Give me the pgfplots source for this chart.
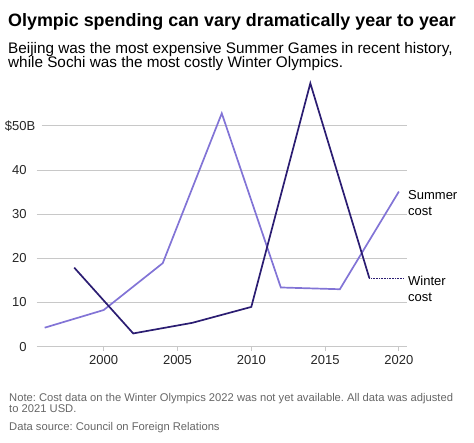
\documentclass[border=0pt]{standalone}
\usepackage{pgfplots}
\pgfplotsset{compat=1.18}
\usepackage{fontspec}
\setmainfont{Liberation Sans}
\definecolor{summer}{HTML}{8274D6}
\definecolor{winter}{HTML}{2B1D72}
\definecolor{gridc}{HTML}{C8C8C8}
\definecolor{notec}{HTML}{666666}
\frenchspacing
\begin{document}
\begin{tikzpicture}[x=1pt,y=1pt]
\path[use as bounding box] (0,0) rectangle (474,442);
\node[anchor=base west,inner sep=0pt,font=\bfseries\fontsize{17.9}{20}\selectfont] at (8,415) {Olympic spending can vary dramatically year to year};
\node[anchor=base west,inner sep=0pt,font=\fontsize{15.3}{14}\selectfont,align=left] at (8,388) {Beijing was the most expensive Summer Games in recent history,};
\node[anchor=base west,inner sep=0pt,font=\fontsize{15.3}{14}\selectfont,align=left] at (8,374) {while Sochi was the most costly Winter Olympics.};
\begin{axis}[
  at={(36.7pt,95.3pt)}, anchor=south west,
  scale only axis, width=370.6pt, height=265.2pt,
  xmin=1995.46, xmax=2020.57, ymin=0, ymax=60,
  clip=false,
  axis x line*=bottom, axis y line*=left,
  x axis line style={gridc,line width=0.8pt,-},
  y axis line style={draw=none},
  xtick={2000,2005,2010,2015,2020},
  xticklabels={2000,2005,2010,2015,2020},
  xtick style={gridc,line width=0.8pt},
  tick align=outside, major tick length=4pt,
  ytick={0,10,20,30,40,50},
  yticklabels={0,10,20,30,40,{\$50\rlap{B}}},
  ytick style={draw=none},
  xticklabel style={font=\fontsize{13}{13}\selectfont,text=black!85,yshift=-1pt},
  yticklabel style={font=\fontsize{13}{13}\selectfont,text=black!85,anchor=east,xshift=-2.5pt},
  /pgf/number format/assume math mode=true,
]
\pgfplotsinvokeforeach{10,20,30,40}{\draw[gridc,line width=0.8pt] (axis cs:1995.46,#1) -- (axis cs:2020.57,#1);}
\draw[gridc,line width=0.8pt] (axis cs:1995.8,50) -- (axis cs:2020.57,50);
\addplot[summer,line width=1.7pt,mark=none] coordinates {
(1996,4.3) (2000,8.3) (2004,18.9) (2008,52.8) (2012,13.4) (2016,13.0) (2020,35.1)};
\addplot[winter,line width=1.7pt,mark=none] coordinates {
(1998,17.9) (2002,3.0) (2006,5.4) (2010,9.0) (2014,59.6) (2018,15.5)};
\addplot[winter,line width=0.6pt,densely dotted,mark=none] coordinates {(2018,15.5) (2020.3,15.5)};
\end{axis}
\node[anchor=base west,inner sep=0pt,font=\fontsize{13}{16}\selectfont,align=left] at (408,242) {Summer};
\node[anchor=base west,inner sep=0pt,font=\fontsize{13}{16}\selectfont,align=left] at (408,226) {cost};
\node[anchor=base west,inner sep=0pt,font=\fontsize{13}{16}\selectfont,align=left] at (408,156) {Winter};
\node[anchor=base west,inner sep=0pt,font=\fontsize{13}{16}\selectfont,align=left] at (408,140) {cost};
\node[anchor=base west,inner sep=0pt,font=\fontsize{11.2}{11}\selectfont,text=notec] at (9,40.3) {Note: Cost data on the Winter Olympics 2022 was not yet available. All data was adjusted};
\node[anchor=base west,inner sep=0pt,font=\fontsize{11.2}{11}\selectfont,text=notec] at (9,29.3) {to 2021 USD.};
\node[anchor=base west,inner sep=0pt,font=\fontsize{11.2}{11}\selectfont,text=notec] at (9,12) {Data source: Council on Foreign Relations};
\end{tikzpicture}
\end{document}
